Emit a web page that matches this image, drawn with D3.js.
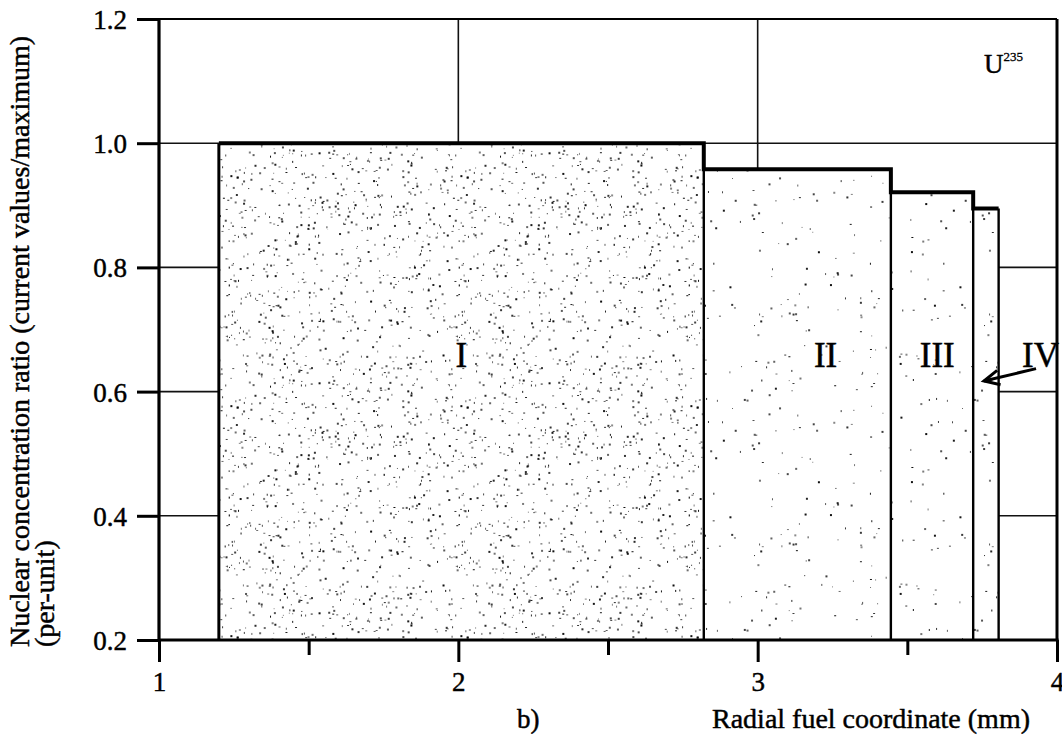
<!DOCTYPE html>
<html>
<head>
<meta charset="utf-8">
<script src="https://cdn.jsdelivr.net/npm/d3@7"></script>
<style>
  html, body { margin: 0; padding: 0; background: #fff; }
  svg { display: block; }
  text { font-family: "Liberation Serif", "Times New Roman", serif; fill: #000; stroke: #000; stroke-width: 0.45px; }
</style>
</head>
<body>
<svg id="chart" width="1062" height="745"></svg>
<script>
// ---------------- data ----------------
const regions      = ["I", "II", "III", "IV"];
const regionStart  = [1.2, 2.82, 3.445, 3.72];
const regionEnd    = [2.82, 3.445, 3.72, 3.805];
const regionValue  = [1.0, 0.958, 0.921, 0.895];
const labelX       = [2.01, 3.227, 3.60, 3.945];
const labelY       = [0.64, 0.64, 0.64, 0.64];
const xTicks       = [1, 2, 3, 4];
const xMinorTicks  = [1.5, 2.5, 3.5];
const yTicks       = [0.2, 0.4, 0.6, 0.8, 1.0, 1.2];
const yGrid        = [0.4, 0.6, 0.8, 1.0];
const xGrid        = [2, 3];
const arrowFrom    = [3.93, 0.637];
const arrowTo      = [3.756, 0.617];

// ---------------- layout ----------------
const svg = d3.select("#chart");
const x = d3.scaleLinear().domain([1, 4]).range([159, 1057]);
const y = d3.scaleLinear().domain([0.2, 1.2]).range([640, 19]);

// stipple patterns (texture only)
const defs = svg.append("defs");
function hash(n) { const s = Math.sin(n * 12.9898 + 78.233) * 43758.5453; return s - Math.floor(s); }
function makePattern(id, size, count, seed) {
  const p = defs.append("pattern").attr("id", id).attr("patternUnits", "userSpaceOnUse")
    .attr("width", size).attr("height", size);
  p.append("rect").attr("width", size).attr("height", size).attr("fill", "#fff");
  for (let i = 0; i < count; i++) {
    const px = hash(seed + i * 3.1) * size;
    const py = hash(seed + i * 7.7 + 1.3) * size;
    const w = 1 + Math.round(hash(seed + i * 5.3) * 1.2);
    const h = 1 + Math.round(hash(seed + i * 2.9) * 1.2);
    p.append("rect").attr("x", px).attr("y", py).attr("width", w).attr("height", h)
      .attr("fill", "#000").attr("opacity", 0.45 + hash(seed + i * 1.7) * 0.5);
  }
}
makePattern("dense", 230, 740, 11);
makePattern("sparse", 230, 165, 37);
const patternFor = ["dense", "sparse", "sparse", "sparse"];

// grid
svg.append("g").selectAll("line.h").data(yGrid).join("line")
  .attr("x1", x(1)).attr("x2", x(4)).attr("y1", d => y(d)).attr("y2", d => y(d))
  .attr("stroke", "#111").attr("stroke-width", 1.6);
svg.append("g").selectAll("line.v").data(xGrid).join("line")
  .attr("x1", d => x(d)).attr("x2", d => x(d)).attr("y1", y(0.2)).attr("y2", y(1.2))
  .attr("stroke", "#111").attr("stroke-width", 1.6);

// bars
const bars = regions.map((r, i) => ({ r, x0: regionStart[i], x1: regionEnd[i], v: regionValue[i], pat: patternFor[i] }));
svg.append("g").selectAll("rect").data(bars).join("rect")
  .attr("x", d => x(d.x0)).attr("width", d => x(d.x1) - x(d.x0))
  .attr("y", d => y(d.v)).attr("height", d => y(0.2) - y(d.v))
  .attr("fill", d => `url(#${d.pat})`);

// internal vertical edges
svg.append("g").selectAll("line").data(bars).join("line")
  .attr("x1", d => x(d.x1)).attr("x2", d => x(d.x1))
  .attr("y1", d => y(d.v)).attr("y2", y(0.2))
  .attr("stroke", "#000").attr("stroke-width", 2.4);
svg.append("line").attr("x1", x(regionStart[0])).attr("x2", x(regionStart[0]))
  .attr("y1", y(regionValue[0])).attr("y2", y(0.2)).attr("stroke", "#000").attr("stroke-width", 3);

// top step envelope
const env = [[regionStart[0], regionValue[0]]];
bars.forEach((d, i) => {
  env.push([d.x1, d.v]);
  if (i < bars.length - 1) env.push([d.x1, bars[i + 1].v]);
});
svg.append("path").attr("d", d3.line().x(d => x(d[0])).y(d => y(d[1]))(env))
  .attr("fill", "none").attr("stroke", "#000").attr("stroke-width", 4);

// frame: top and right
svg.append("line").attr("x1", x(1)).attr("x2", x(4)).attr("y1", y(1.2)).attr("y2", y(1.2))
  .attr("stroke", "#000").attr("stroke-width", 2);
svg.append("line").attr("x1", x(4)).attr("x2", x(4)).attr("y1", y(1.2)).attr("y2", y(0.2))
  .attr("stroke", "#000").attr("stroke-width", 3);

// axes
const xAxis = svg.append("g").attr("transform", `translate(0,${y(0.2)})`)
  .call(d3.axisBottom(x).tickValues(xTicks).tickSize(22).tickSizeOuter(0).tickPadding(10).tickFormat(d3.format("d")));
const xMinor = svg.append("g").attr("transform", `translate(0,${y(0.2)})`)
  .call(d3.axisBottom(x).tickValues(xMinorTicks).tickSize(15).tickSizeOuter(0).tickFormat(""));
xMinor.select(".domain").remove();
const yAxis = svg.append("g").attr("transform", `translate(${x(1)},0)`)
  .call(d3.axisLeft(y).tickValues(yTicks).tickSize(22).tickSizeOuter(0).tickPadding(10).tickFormat(d3.format(".1f")));
[xAxis, xMinor, yAxis].forEach(g => {
  g.selectAll(".domain").attr("stroke", "#000").attr("stroke-width", 3.2);
  g.selectAll(".tick line").attr("stroke", "#000").attr("stroke-width", 3);
  g.selectAll(".tick text").style("font-family", '"Liberation Serif", serif').style("font-size", "27px").attr("fill", "#000");
});
xAxis.select(".domain").attr("d", `M${x(1)},0H${x(4) + 1.5}`);
yAxis.select(".domain").attr("d", `M0,${y(0.2) + 1.5}V${y(1.2)}`);
xAxis.selectAll(".tick text").attr("dy", "0.71em");
yAxis.selectAll(".tick text").attr("dy", "0.35em");

// region labels
svg.append("g").selectAll("text").data(regions).join("text")
  .attr("x", (d, i) => x(labelX[i])).attr("y", (d, i) => y(labelY[i]))
  .attr("text-anchor", "middle").style("font-size", "35px").text(d => d);

// arrow
const ax0 = x(arrowFrom[0]), ay0 = y(arrowFrom[1]), ax1 = x(arrowTo[0]), ay1 = y(arrowTo[1]);
const ang = Math.atan2(ay1 - ay0, ax1 - ax0);
const hl = 17, ha = 0.45;
svg.append("line").attr("x1", ax0).attr("y1", ay0).attr("x2", ax1).attr("y2", ay1)
  .attr("stroke", "#000").attr("stroke-width", 3);
svg.append("path")
  .attr("d", `M${ax1 - hl * Math.cos(ang - ha)},${ay1 - hl * Math.sin(ang - ha)}L${ax1},${ay1}L${ax1 - hl * Math.cos(ang + ha)},${ay1 - hl * Math.sin(ang + ha)}`)
  .attr("fill", "none").attr("stroke", "#000").attr("stroke-width", 3).attr("stroke-linejoin", "miter");

// U235 label
const u = svg.append("text").attr("x", 984).attr("y", 73).style("font-size", "27px");
u.append("tspan").text("U");
u.append("tspan").attr("dy", -12).style("font-size", "13px").style("stroke-width", "0.3px").text("235");

// axis titles
svg.append("text").attr("transform", `translate(29,647) rotate(-90)`)
  .style("font-size", "28px").text("Nuclear concentration ratio (current values/maximum)");
svg.append("text").attr("transform", `translate(54,647) rotate(-90)`)
  .style("font-size", "28px").text("(per-unit)");
svg.append("text").attr("x", 517).attr("y", 728).style("font-size", "27px").text("b)");
svg.append("text").attr("x", 712).attr("y", 728).style("font-size", "28px").text("Radial fuel coordinate (mm)");
</script>
</body>
</html>
